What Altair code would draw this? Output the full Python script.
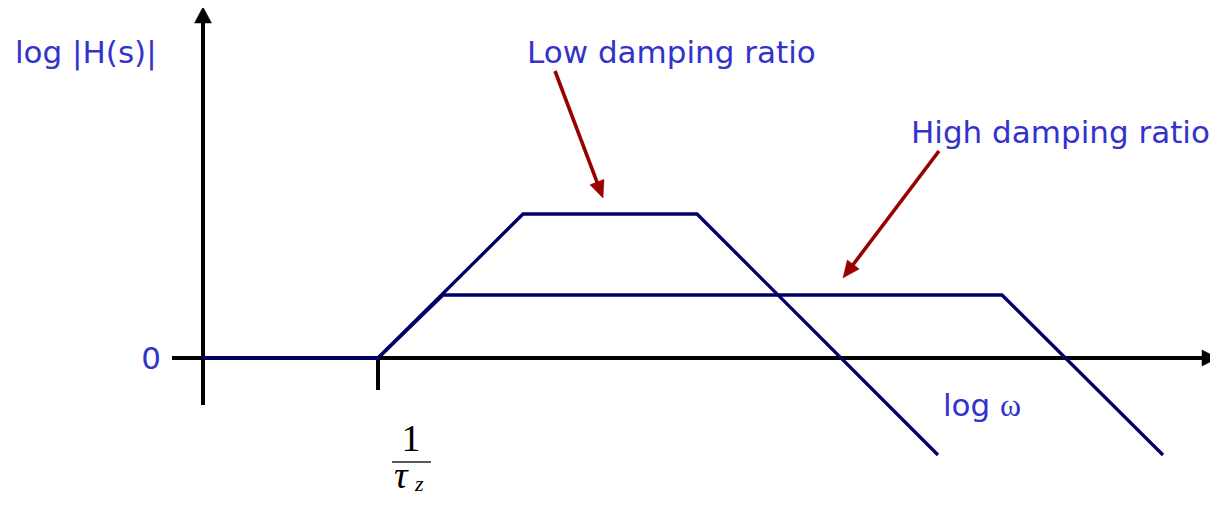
import math
import altair as alt
import pandas as pd

# ---- data (schematic units: origin at the axes crossing) ----
series_names = ["Low damping ratio", "High damping ratio"]
low_x = [0, 175, 320, 494, 735]
low_y = [0, 0, 144, 144, -97]
high_x = [0, 175, 240, 799, 960]
high_y = [0, 0, 63, 63, -97]

corner_x = 175          # 1/tau_z
axis_x = [-31, 1015]    # horizontal axis extent (arrow tip at end)
axis_y = [-47, 351]     # vertical axis extent (arrow tip at end)
tick_y = [0, -32]

arrow_from_x = [352, 736]
arrow_from_y = [287, 207]
arrow_to_x = [400, 640]
arrow_to_y = [160, 80]

X_DOM = [-195, 1007]
Y_DOM = [-138, 350]
W, H = 1202, 488

BLUE = "#3333cc"
NAVY = "#000066"
RED = "#990000"

xs = alt.Scale(domain=X_DOM, nice=False, zero=False)
ys = alt.Scale(domain=Y_DOM, nice=False, zero=False)


def X(f):
    return alt.X(f, type="quantitative", scale=xs, axis=None)


def Y(f):
    return alt.Y(f, type="quantitative", scale=ys, axis=None, stack=None)


def arrow_rows(fx, fy, tx, ty, head_len, head_w):
    """Shaft segment plus a filled triangular head expressed as an area band."""
    dx, dy = tx - fx, ty - fy
    L = math.hypot(dx, dy)
    ux, uy = dx / L, dy / L
    bx, by = tx - ux * head_len, ty - uy * head_len
    px, py = -uy, ux
    verts = [
        (bx + px * head_w / 2, by + py * head_w / 2),
        (bx - px * head_w / 2, by - py * head_w / 2),
        (tx, ty),
    ]
    verts.sort(key=lambda v: v[0])
    (ax, ay), (mx, my), (cx, cy) = verts
    rows = []
    if abs(cx - ax) < 1e-6:
        rows.append({"x": ax - 0.01, "y": min(ay, my, cy), "y2": max(ay, my, cy)})
        rows.append({"x": ax + 0.01, "y": min(ay, my, cy), "y2": max(ay, my, cy)})
    elif abs(mx - ax) < 1e-6:
        rows.append({"x": ax, "y": ay, "y2": my})
        rows.append({"x": cx, "y": cy, "y2": cy})
    elif abs(cx - mx) < 1e-6:
        rows.append({"x": ax, "y": ay, "y2": ay})
        rows.append({"x": cx, "y": my, "y2": cy})
    else:
        t = (mx - ax) / (cx - ax)
        iy = ay + (cy - ay) * t
        rows.append({"x": ax, "y": ay, "y2": ay})
        rows.append({"x": mx, "y": my, "y2": iy})
        rows.append({"x": cx, "y": cy, "y2": cy})
    shaft = {"x": fx, "y": fy, "x2": bx + ux * 2, "y2": by + uy * 2}
    return shaft, rows


def head_chart(rows, color):
    return alt.Chart(pd.DataFrame(rows)).mark_area(
        color=color, orient="vertical", opacity=1, stroke=color, strokeWidth=0.5,
        interpolate="linear"
    ).encode(x=X("x"), y=Y("y"), y2="y2")


# black axes with arrow heads
shafts_k, head_layers = [], []
for fx, fy, tx, ty, sw in [
    (axis_x[0], 0, axis_x[1], 0, 16),
    (0, axis_y[0], 0, axis_y[1], 17),
]:
    s, h = arrow_rows(fx, fy, tx, ty, 16, sw)
    shafts_k.append(s)
    head_layers.append(head_chart(h, "black"))
shafts_k.append({"x": corner_x, "y": tick_y[0], "x2": corner_x, "y2": tick_y[1]})

axes = alt.Chart(pd.DataFrame(shafts_k)).mark_rule(color="black", strokeWidth=4).encode(
    x=X("x"), y=Y("y"), x2="x2", y2="y2")

# response curves
rows = []
for i, (px, py) in enumerate(zip(low_x, low_y)):
    rows.append({"s": series_names[0], "o": i, "x": px, "y": py})
for i, (px, py) in enumerate(zip(high_x, high_y)):
    rows.append({"s": series_names[1], "o": i, "x": px, "y": py})
curves = alt.Chart(pd.DataFrame(rows)).mark_line(
    color=NAVY, strokeWidth=3.3, strokeJoin="miter"
).encode(x=X("x"), y=Y("y"), detail="s:N", order="o:Q")

# red annotation arrows
shafts_r = []
for fx, fy, tx, ty in zip(arrow_from_x, arrow_from_y, arrow_to_x, arrow_to_y):
    s, h = arrow_rows(fx, fy, tx, ty, 17, 15)
    shafts_r.append(s)
    head_layers.append(head_chart(h, RED))
red_shafts = alt.Chart(pd.DataFrame(shafts_r)).mark_rule(color=RED, strokeWidth=3.6).encode(
    x=X("x"), y=Y("y"), x2="x2", y2="y2")

# labels
lab = pd.DataFrame({
    "t": ["log |H(s)|", "Low damping ratio", "High damping ratio", "log"],
    "x": [-188, 324, 708, 740],
    "y": [295, 295, 215, -58],
})
labels = alt.Chart(lab).mark_text(
    font="DejaVu Sans", fontSize=31, color=BLUE, align="left", baseline="alphabetic"
).encode(x=X("x"), y=Y("y"), text="t:N")

zero = alt.Chart(pd.DataFrame({"t": ["0"], "x": [-42], "y": [-11]})).mark_text(
    font="DejaVu Sans", fontSize=31, color=BLUE, align="right", baseline="alphabetic"
).encode(x=X("x"), y=Y("y"), text="t:N")

omega = alt.Chart(pd.DataFrame({"t": ["ω"], "x": [797], "y": [-58]})).mark_text(
    font="Liberation Serif", fontSize=32, color=BLUE, align="left", baseline="alphabetic"
).encode(x=X("x"), y=Y("y"), text="t:N")

one = alt.Chart(pd.DataFrame({"t": ["1"], "x": [208], "y": [-93]})).mark_text(
    font="Liberation Serif", fontSize=38, color="black", align="center", baseline="alphabetic"
).encode(x=X("x"), y=Y("y"), text="t:N")

bar = alt.Chart(pd.DataFrame({"x": [189], "x2": [228], "y": [-104]})).mark_rule(
    color="#222222", strokeWidth=1.6
).encode(x=X("x"), x2="x2", y=Y("y"))

tau = alt.Chart(pd.DataFrame({"t": ["τ"], "x": [191], "y": [-130]})).mark_text(
    font="Liberation Serif", fontSize=38, fontStyle="italic", color="black",
    align="left", baseline="alphabetic"
).encode(x=X("x"), y=Y("y"), text="t:N")

zsub = alt.Chart(pd.DataFrame({"t": ["z"], "x": [212], "y": [-133]})).mark_text(
    font="Liberation Serif", fontSize=22, fontStyle="italic", color="black",
    align="left", baseline="alphabetic"
).encode(x=X("x"), y=Y("y"), text="t:N")

chart = alt.layer(
    axes, *head_layers, curves, red_shafts,
    labels, zero, omega, one, bar, tau, zsub
).properties(
    width=W, height=H, padding=0, autosize=alt.AutoSizeParams(type="none")
).configure_view(stroke=None)

chart.save("out.html", embed_options={"renderer": "svg", "actions": False})
